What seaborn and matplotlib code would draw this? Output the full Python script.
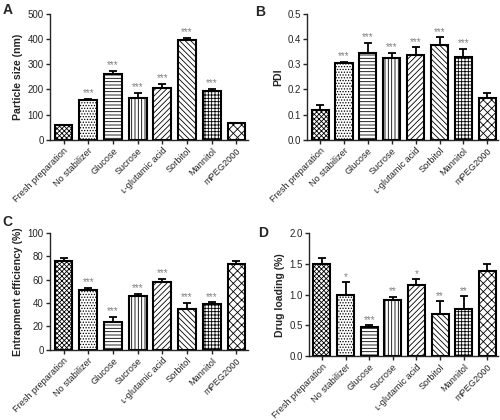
import numpy as np
import pandas as pd
import seaborn as sns
import matplotlib.pyplot as plt

# groups and hatch patterns
groups = ['Fresh preparation', 'No stabilizer', 'Glucose', 'Sucrose',
          '\u029f-glutamic acid', 'Sorbitol', 'Mannitol', 'mPEG2000']
hatches = ['xxxxxxx', '......', '-----', '|||||', '//////', '\\' * 6, '+++++', 'xxxx']

# panel A - particle size
size_mean = [58, 157, 263, 167, 205, 395, 192, 65]
size_err = [2, 5, 10, 20, 18, 10, 10, 3]
size_sig = ['', '***', '***', '***', '***', '***', '***', '']

# panel B - PDI
pdi_mean = [0.12, 0.305, 0.345, 0.325, 0.337, 0.377, 0.33, 0.165]
pdi_err = [0.02, 0.005, 0.04, 0.02, 0.03, 0.03, 0.03, 0.022]
pdi_sig = ['', '***', '***', '***', '***', '***', '***', '']

# panel C - entrapment efficiency
ee_mean = [76, 51, 24, 46, 58, 35, 39, 73]
ee_err = [2, 2, 4, 2, 2.5, 5, 1.5, 3]
ee_sig = ['', '***', '***', '***', '***', '***', '***', '']

# panel D - drug loading
dl_mean = [1.5, 1.0, 0.48, 0.91, 1.15, 0.69, 0.77, 1.39]
dl_err = [0.1, 0.2, 0.02, 0.05, 0.1, 0.2, 0.2, 0.1]
dl_sig = ['', '*', '***', '**', '*', '**', '**', '']

sns.set_style('ticks')
plt.rcParams['font.family'] = ['Liberation Sans', 'DejaVu Sans']
plt.rcParams['hatch.linewidth'] = 0.6

fig = plt.figure(figsize=(5, 4.2), dpi=100)

panels = [
    ('A', 'Particle size (nm)', size_mean, size_err, size_sig, (0, 500), np.arange(0, 501, 100), '{:.0f}', [0.10, 0.667, 0.395, 0.30], (-0.24, 1.09)),
    ('B', 'PDI', pdi_mean, pdi_err, pdi_sig, (0, 0.5), np.arange(0, 0.51, 0.1), '{:.1f}', [0.614, 0.667, 0.382, 0.30], (-0.27, 1.07)),
    ('C', 'Entrapment efficiency (%)', ee_mean, ee_err, ee_sig, (0, 100), np.arange(0, 101, 20), '{:.0f}', [0.10, 0.167, 0.395, 0.279], (-0.24, 1.15)),
    ('D', 'Drug loading (%)', dl_mean, dl_err, dl_sig, (0, 2.0), np.arange(0, 2.01, 0.5), '{:.1f}', [0.618, 0.152, 0.378, 0.293], (-0.27, 1.06)),
]

for letter, ylabel, mean, err, sig, ylim, yticks, fmt, rect, lpos in panels:
    ax = fig.add_axes(rect)
    df = pd.DataFrame({'group': groups, 'value': mean})
    sns.barplot(data=df, x='group', y='value', ax=ax, color='white',
                edgecolor='black', linewidth=1.5, width=0.72, errorbar=None)
    for patch, h in zip(ax.patches, hatches):
        patch.set_hatch(h)
    xs = [p.get_x() + p.get_width() / 2 for p in ax.patches]
    ax.errorbar(xs, mean, yerr=[np.zeros(len(err)), err], fmt='none',
                ecolor='black', elinewidth=1.3, capsize=3, capthick=1.3)
    for x, m, e, s in zip(xs, mean, err, sig):
        if s:
            ax.text(x, m + e + ylim[1] * 0.005, s, ha='center', va='bottom',
                    fontsize=7, color='#808080')
    ax.set_ylim(*ylim)
    ax.set_xlim(-0.55, 7.45)
    ax.set_yticks(yticks)
    ax.set_yticklabels([fmt.format(t) for t in yticks], fontsize=7)
    ax.set_xticks(range(len(groups)))
    ax.set_xticklabels(groups, rotation=45, ha='right', rotation_mode='anchor',
                       fontsize=6.6)
    ax.set_xlabel('')
    ax.set_ylabel(ylabel, fontsize=7.6, fontweight='bold', labelpad=3)
    ax.tick_params(length=3, width=1, pad=1.5)
    for sp in ['left', 'bottom']:
        ax.spines[sp].set_linewidth(1.0)
    sns.despine(ax=ax)
    ax.text(lpos[0], lpos[1], letter, transform=ax.transAxes, fontsize=10,
            fontweight='bold', ha='left', va='top')

fig.savefig('out.png', dpi=100)
